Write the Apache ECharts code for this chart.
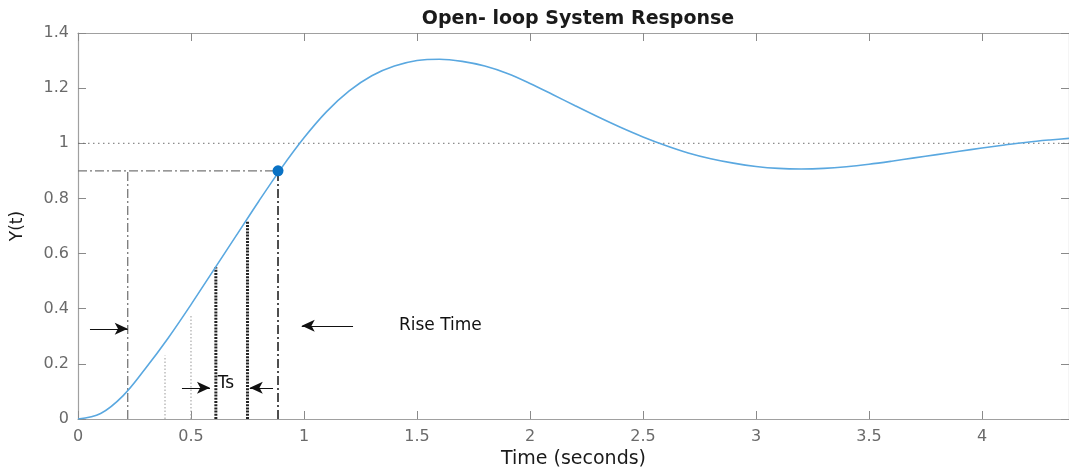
<!DOCTYPE html>
<html>
<head>
<meta charset="utf-8">
<script src="https://cdn.jsdelivr.net/npm/echarts@6/dist/echarts.min.js"></script>
<style>
html,body{margin:0;padding:0;background:#fff;}
#chart{width:1069px;height:474px;}
</style>
</head>
<body>
<div id="chart"></div>
<script>
// ---- data ----
const time = [0,0.1,0.2,0.3,0.4,0.5,0.6,0.7,0.8,0.9,1.0,1.1,1.2,1.3,1.4,1.5,1.6,1.7,1.8,1.9,2.0,2.1,2.2,2.3,2.4,2.5,2.6,2.7,2.8,2.9,3.0,3.1,3.2,3.3,3.4,3.5,3.6,3.7,3.8,3.9,4.0,4.1,4.2,4.3,4.4];
const response = [0,0.02,0.085,0.185,0.295,0.415,0.54,0.665,0.79,0.91,1.02,1.115,1.19,1.245,1.28,1.30,1.305,1.297,1.28,1.253,1.217,1.177,1.136,1.096,1.058,1.023,0.992,0.965,0.944,0.928,0.916,0.909,0.907,0.909,0.915,0.924,0.935,0.947,0.959,0.971,0.983,0.994,1.004,1.012,1.019];
const xTicks = [0,0.5,1,1.5,2,2.5,3,3.5,4];
const yTicks = [0,0.2,0.4,0.6,0.8,1,1.2,1.4];
const riseTime = 0.885, riseLevel = 0.9;
const startTime = 0.22;
const finalLevel = 1;
const thinDotted = [[0.385,0.23],[0.5,0.38]];      // [t, top]
const thickDotted = [[0.61,0.55],[0.75,0.72]];     // [t, top]
const riseArrows = [[0.053,0.22,0.327],[1.217,0.99,0.338]]; // [fromT, toT, y]
const tsArrows = [[0.46,0.584,0.113],[0.863,0.76,0.113]];
const labels = [[1.42,0.338,'Rise Time'],[0.618,0.13,'Ts']];

const xMin = 0, xMax = 4.385, yMin = 0, yMax = 1.4;
const FONT = 'DejaVu Sans';

const series = [];
const addLine = (pts, style, z) => series.push({
  type:'line', data: pts, showSymbol:false, silent:true, animation:false,
  lineStyle: style, z: z||2
});

// reference lines
addLine([[xMin,finalLevel],[xMax,finalLevel]], {color:'#6e6e6e', width:1, type:[1.5,3.5]});
addLine([[xMin,riseLevel],[riseTime,riseLevel]], {color:'#777', width:1.3, type:[9,3,2,3]});
addLine([[startTime,0],[startTime,riseLevel]], {color:'#777', width:1.3, type:[9,3,2,3]});
addLine([[riseTime,0],[riseTime,riseLevel]], {color:'#222', width:1.6, type:[9,3,2,3]}, 3);
thinDotted.forEach(d=>addLine([[d[0],0],[d[0],d[1]]], {color:'#999', width:1, type:[1.5,2]}));
thickDotted.forEach(d=>addLine([[d[0],0],[d[0],d[1]]], {color:'#222', width:3, type:[2,1.2]}, 3));

// response curve
series.push({
  type:'line', name:'Y(t)', data: time.map((t,i)=>[t,response[i]]),
  showSymbol:false, smooth:0.35, silent:true, animation:false,
  lineStyle:{color:'#5aa8e0', width:1.6}, z:4
});

// arrows
series.push({
  type:'line', data:[], silent:true, animation:false,
  markLine:{
    silent:true, animation:false,
    symbol:['none','arrow'], symbolSize:[9,13],
    label:{show:false},
    lineStyle:{color:'#111', width:1, type:'solid'},
    emphasis:{disabled:true},
    data: riseArrows.concat(tsArrows).map(a=>[{coord:[a[0],a[2]]},{coord:[a[1],a[2]]}])
  }
});

// rise point
series.push({
  type:'scatter', data:[[riseTime,riseLevel]], symbolSize:11, silent:true, animation:false,
  itemStyle:{color:'#0a72c4', opacity:1}, z:6
});

// text labels
series.push({
  type:'scatter', data: labels.map(l=>[l[0],l[1],l[2]]), symbolSize:0, silent:true, animation:false,
  itemStyle:{opacity:1},
  label:{show:true, position:'right', distance:0, formatter:p=>p.data[2],
    color:'#111', opacity:1, fontSize:17, fontFamily:FONT}, z:7
});

// dummy series on the mirror axes
series.push({type:'line', data:[], xAxisIndex:1, yAxisIndex:1, silent:true});

const chart = echarts.init(document.getElementById('chart'), null, {renderer:'canvas'});
const axisCommon = {
  type:'value', splitLine:{show:false},
  axisLine:{show:true, onZero:false, lineStyle:{color:'#a0a0a0', width:1.2}},
  axisTick:{show:true, inside:true, length:8, lineStyle:{color:'#8a8a8a'}},
};
const fmt = list => v => { const r = +v.toFixed(3); return list.indexOf(r) >= 0 ? String(r) : ''; };
chart.setOption({
  animation:false,
  backgroundColor:'#fff',
  title:{text:'Open- loop System Response', left:573, top:5, textAlign:'center',
    textStyle:{fontFamily:FONT, fontSize:19, fontWeight:'bold', color:'#1a1a1a'}},
  grid:{left:78, right:0, top:33, bottom:55},
  xAxis:[
    Object.assign({}, axisCommon, {
      min:xMin, max:xMax, interval:0.5, position:'bottom',
      name:'Time (seconds)', nameLocation:'middle', nameGap:30,
      nameTextStyle:{fontFamily:FONT, fontSize:19, color:'#1a1a1a'},
      axisLabel:{show:true, margin:10, fontFamily:FONT, fontSize:16, color:'#6a6a6a',
        showMaxLabel:false, formatter:fmt(xTicks)}
    }),
    Object.assign({}, axisCommon, {
      min:xMin, max:xMax, interval:0.5, position:'top', axisLabel:{show:false}
    })
  ],
  yAxis:[
    Object.assign({}, axisCommon, {
      min:yMin, max:yMax, interval:0.2, position:'left',
      name:'Y(t)', nameLocation:'middle', nameGap:52, nameRotate:90,
      nameTextStyle:{fontFamily:FONT, fontSize:17, color:'#1a1a1a'},
      axisLabel:{show:true, margin:9, fontFamily:FONT, fontSize:16, color:'#6a6a6a',
        formatter:fmt(yTicks)}
    }),
    Object.assign({}, axisCommon, {
      min:yMin, max:yMax, interval:0.2, position:'right', axisLabel:{show:false}
    })
  ],
  series: series
});
</script>
</body>
</html>
